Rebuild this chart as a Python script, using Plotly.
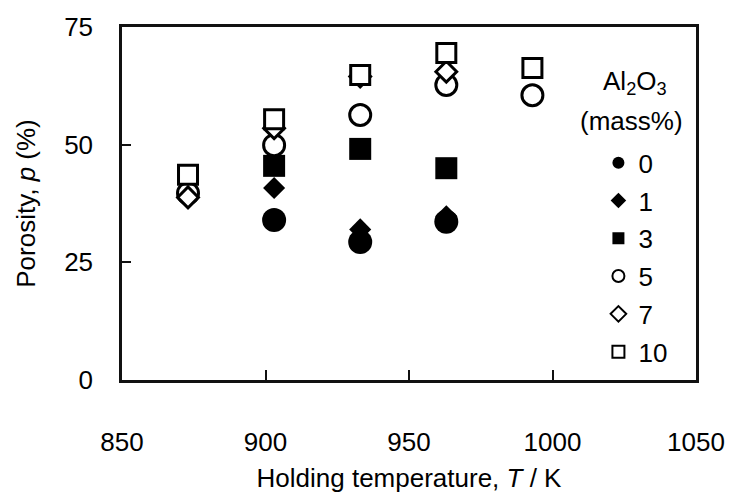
import plotly.graph_objects as go

# Porosity of foamed samples vs. holding temperature, by Al2O3 addition (mass%)
temp_0 = [903, 933, 963]
por_0 = [34.0, 29.3, 33.6]

temp_1 = [903, 933, 963]
por_1 = [40.8, 32.0, 34.8]

temp_3 = [903, 933, 963]
por_3 = [45.5, 49.1, 45.0]

temp_5 = [873, 903, 933, 963, 993]
por_5 = [39.7, 49.9, 56.3, 62.7, 60.5]

temp_7 = [873, 903, 933, 963]
por_7 = [38.8, 53.5, 64.5, 65.5]

temp_10 = [873, 903, 933, 963, 993]
por_10 = [43.6, 55.4, 64.8, 69.5, 66.3]

series_names = ["0", "1", "3", "5", "7", "10"]
x_ticks = [850, 900, 950, 1000, 1050]
y_ticks = [0, 25, 50, 75]

FONT = "Liberation Sans, Arial, sans-serif"
FS = 26

styles = {
    "0": dict(symbol="circle", size=24, color="black", line=dict(color="black", width=0)),
    "1": dict(symbol="diamond", size=17, color="black", line=dict(color="black", width=0)),
    "3": dict(symbol="square", size=22, color="black", line=dict(color="black", width=0)),
    "5": dict(symbol="circle", size=21, color="white", line=dict(color="black", width=3)),
    "7": dict(symbol="diamond", size=16, color="white", line=dict(color="black", width=3)),
    "10": dict(symbol="square", size=19, color="white", line=dict(color="black", width=3)),
}

data = {
    "0": (temp_0, por_0),
    "1": (temp_1, por_1),
    "3": (temp_3, por_3),
    "5": (temp_5, por_5),
    "7": (temp_7, por_7),
    "10": (temp_10, por_10),
}

fig = go.Figure()
for name in series_names:
    xs, ys = data[name]
    fig.add_trace(go.Scatter(
        x=xs, y=ys, mode="markers", name=name, legendgroup=name,
        marker=styles[name],
    ))

fig.update_layout(
    width=729, height=493,
    margin=dict(l=122, r=33, t=27, b=113, autoexpand=False),
    paper_bgcolor="white", plot_bgcolor="white",
    font=dict(family=FONT, size=FS, color="black"),
    showlegend=True,
    legend=dict(
        x=0.830, y=0.682, xanchor="left", yanchor="top",
        bgcolor="rgba(0,0,0,0)",
        itemsizing="constant",
        tracegroupgap=1,
        font=dict(family=FONT, size=FS, color="black"),
    ),
    annotations=[
        dict(text="Al<sub>2</sub>O<sub>3</sub>", xref="paper", yref="paper",
             x=0.893, y=0.844, xanchor="center", yanchor="middle",
             showarrow=False, font=dict(family=FONT, size=FS, color="black")),
        dict(text="(mass%)", xref="paper", yref="paper",
             x=0.887, y=0.734, xanchor="center", yanchor="middle",
             showarrow=False, font=dict(family=FONT, size=FS, color="black")),
    ],
)

fig.update_xaxes(
    automargin=False,
    range=[850, 1050], tickvals=x_ticks, ticktext=[str(v) for v in x_ticks],
    ticks="inside", ticklen=10, tickwidth=2, tickcolor="#111",
    showline=True, linewidth=2.5, linecolor="#111", mirror=True,
    showgrid=False, zeroline=False,
    ticklabelstandoff=37,
    title=dict(text="Holding temperature, <i>T</i> / K", standoff=15,
               font=dict(family=FONT, size=FS)),
)
fig.update_yaxes(
    automargin=False,
    range=[0, 75], tickvals=y_ticks, ticktext=[str(v) for v in y_ticks],
    ticks="inside", ticklen=9, tickwidth=2, tickcolor="#111",
    showline=True, linewidth=2.5, linecolor="#111", mirror=True,
    showgrid=False, zeroline=False,
    ticklabelstandoff=21,
    title=dict(text="Porosity, <i>p</i> (%)", standoff=22,
               font=dict(family=FONT, size=FS)),
)

fig.write_html("out.html")
